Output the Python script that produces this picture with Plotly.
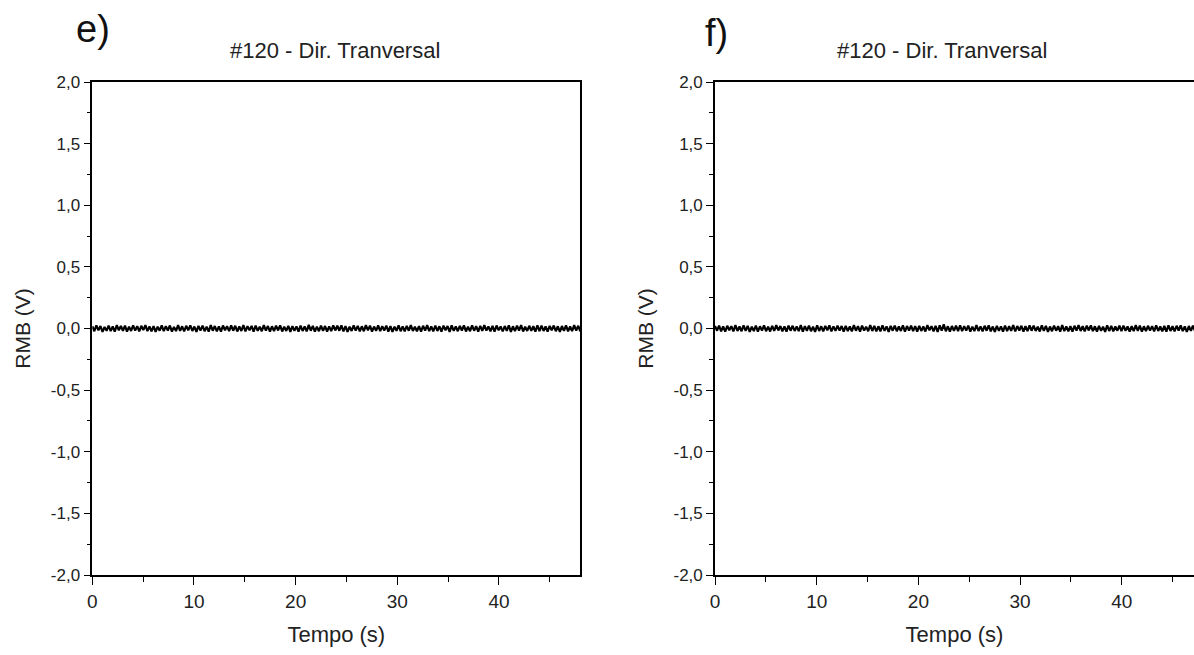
import plotly.graph_objects as go

# RMB signal samples in mV, read as a dense noise band around 0 V
rmb_e_mv = [18,-22,25,-15,20,-27,12,-19,24,-21,16,-25,28,-14,21,-18,23,-26,15,-20,
            26,-17,19,-24,22,-13,27,-21,17,-23,20,-28,14,-18,25,-22,19,-16,24,-25,
            13,-21,27,-19,18,-24,22,-15,26,-20,16,-27,21,-17,23,-22,15,-25,28,-18,
            20,-23,17,-26,24,-14,19,-21,25,-18,22,-24,16,-20,27,-23,18,-15,21,-26,
            24,-19,15,-22,28,-17,20,-25,18,-21,23,-16,26,-24,14,-20,22,-27,19,-18,
            17,-25,23,-20,16,-23,29,-18,21,-26,15,-22,24,-19,20,-25,17,-21,26,-16,
            22,-18,26,-23,19,-27,14,-20,25,-17,21,-24,18,-22,27,-15,23,-26,16,-19,
            25,-21,18,-16,23,-25,20,-28,15,-19,26,-22,17,-24,21,-18,28,-20,14,-23,
            19,-26,22,-17,27,-21,16,-23,24,-20,18,-25,23,-14,20,-27,25,-19,17,-22,
            21,-16,25,-24,14,-22,26,-18,19,-25,22,-20,28,-17,16,-23,21,-26,24,-15,
            16,-23,20,-19,25,-28,18,-21,23,-17,27,-24,15,-20,22,-18,19,-25,26,-21,
            23,-20,17,-26,21,-15,24,-22,18,-27,20,-19,25,-23,16,-21,27,-17,22,-24]
rmb_f_mv = [20,-18,24,-23,17,-26,22,-15,19,-24,27,-20,16,-22,25,-19,21,-27,14,-21,
            23,-25,18,-17,26,-22,15,-24,21,-19,28,-16,20,-23,17,-26,24,-18,22,-20,
            16,-21,27,-25,19,-18,23,-22,14,-27,25,-20,18,-24,21,-15,26,-23,17,-19,
            24,-17,20,-26,22,-21,16,-23,28,-18,19,-25,23,-16,15,-22,27,-20,21,-24,
            18,-23,25,-19,17,-27,21,-18,24,-22,16,-20,26,-25,20,-17,23,-21,19,-26,
            22,-20,16,-24,27,-15,19,-23,21,-28,25,-18,34,-22,18,-26,20,-19,24,-21,
            26,-22,19,-17,23,-25,15,-21,28,-20,17,-24,22,-18,25,-23,16,-27,21,-19,
            17,-26,24,-21,18,-19,27,-23,20,-16,22,-25,19,-22,26,-18,23,-20,15,-24,
            25,-19,21,-27,16,-22,24,-18,19,-25,28,-21,17,-23,20,-26,22,-17,27,-20,
            19,-24,23,-16,26,-21,18,-25,22,-19,15,-27,25,-20,21,-23,16,-18,24,-22,
            23,-18,17,-25,20,-22,27,-19,24,-26,18,-21,22,-17,19,-24,26,-20,16,-23,
            21,-25,26,-20,18,-23,22,-16,25,-21,17,-27,20,-19,24,-22,15,-24,28,-18]

t_end = 48.0
rmb_e = [v / 1000 for v in rmb_e_mv]
rmb_f = [v / 1000 for v in rmb_f_mv]
t_e = [i * t_end / (len(rmb_e) - 1) for i in range(len(rmb_e))]
t_f = [i * t_end / (len(rmb_f) - 1) for i in range(len(rmb_f))]

y_ticks = [-2.0, -1.5, -1.0, -0.5, 0.0, 0.5, 1.0, 1.5, 2.0]
y_ticktext = ["-2,0", "-1,5", "-1,0", "-0,5", "0,0", "0,5", "1,0", "1,5", "2,0"]
x_ticks = [0, 10, 20, 30, 40]
x_ticktext = ["0", "10", "20", "30", "40"]

panel_labels = ["e)", "f)"]
panel_title = "#120 - Dir. Tranversal"
x_title = "Tempo (s)"
y_title = "RMB (V)"

W, H = 1194, 655
NARROW = "Liberation Sans Narrow, Arial Narrow, Liberation Sans, Arial, sans-serif"
REG = "Liberation Sans, Arial, sans-serif"

fig = go.Figure()
fig.add_trace(go.Scatter(x=t_e, y=rmb_e, mode="lines", line=dict(color="black", width=2.2),
                         xaxis="x", yaxis="y", showlegend=False))
fig.add_trace(go.Scatter(x=t_f, y=rmb_f, mode="lines", line=dict(color="black", width=2.2),
                         xaxis="x2", yaxis="y2", showlegend=False))

y_dom = [1 - 575 / H, 1 - 82 / H]
left_dom = [92.3 / W, 580.3 / W]
right_dom = [715 / W, 1.0]
right_max = (W - 715) / 10.17

common_x = dict(tickvals=x_ticks, ticktext=x_ticktext, ticks="outside", ticklen=8, tickwidth=1.3,
                tickcolor="black", showline=True, linecolor="black", linewidth=1.6, showgrid=False,
                zeroline=False, automargin=False, tickfont=dict(family=NARROW, size=19, color="#222"),
                minor=dict(dtick=5, tick0=0, ticks="outside", ticklen=5, tickwidth=1.2, tickcolor="black"),
                title=dict(text=x_title, font=dict(family=NARROW, size=22, color="#222"), standoff=16))
common_y = dict(tickvals=y_ticks, ticktext=y_ticktext, range=[-2, 2], ticks="outside", ticklen=7, tickwidth=1.3,
                tickcolor="black", showline=True, linecolor="black", linewidth=1.6, showgrid=False,
                zeroline=False, automargin=False, tickfont=dict(family=NARROW, size=17, color="#222"),
                minor=dict(dtick=0.25, tick0=0, ticks="outside", ticklen=4, tickwidth=1.2, tickcolor="black"),
                title=dict(text=y_title, font=dict(family=REG, size=21, color="#222"), standoff=14))

fig.update_layout(
    width=W, height=H, autosize=False,
    margin=dict(l=0, r=0, t=0, b=0, pad=0),
    paper_bgcolor="white", plot_bgcolor="white",
    xaxis=dict(domain=left_dom, range=[0, t_end], anchor="y", mirror=True, **common_x),
    yaxis=dict(domain=y_dom, anchor="x", mirror=True, **common_y),
    xaxis2=dict(domain=right_dom, range=[0, right_max], anchor="y2", mirror=True, **common_x),
    yaxis2=dict(domain=y_dom, anchor="x2", mirror=True, **common_y),
)

annotations = [
    dict(text=panel_labels[0], x=93 / W, y=1 - 29 / H, font=dict(family=NARROW, size=38, color="#111")),
    dict(text=panel_labels[1], x=716 / W, y=1 - 33 / H, font=dict(family=NARROW, size=38, color="#111")),
    dict(text=panel_title, x=335 / W, y=1 - 50 / H, font=dict(family=NARROW, size=22, color="#222")),
    dict(text=panel_title, x=942 / W, y=1 - 50 / H, font=dict(family=NARROW, size=22, color="#222")),
]
for a in annotations:
    fig.add_annotation(xref="paper", yref="paper", showarrow=False, xanchor="center", yanchor="middle", **a)

fig.write_html("out.html", config={"displayModeBar": False})
